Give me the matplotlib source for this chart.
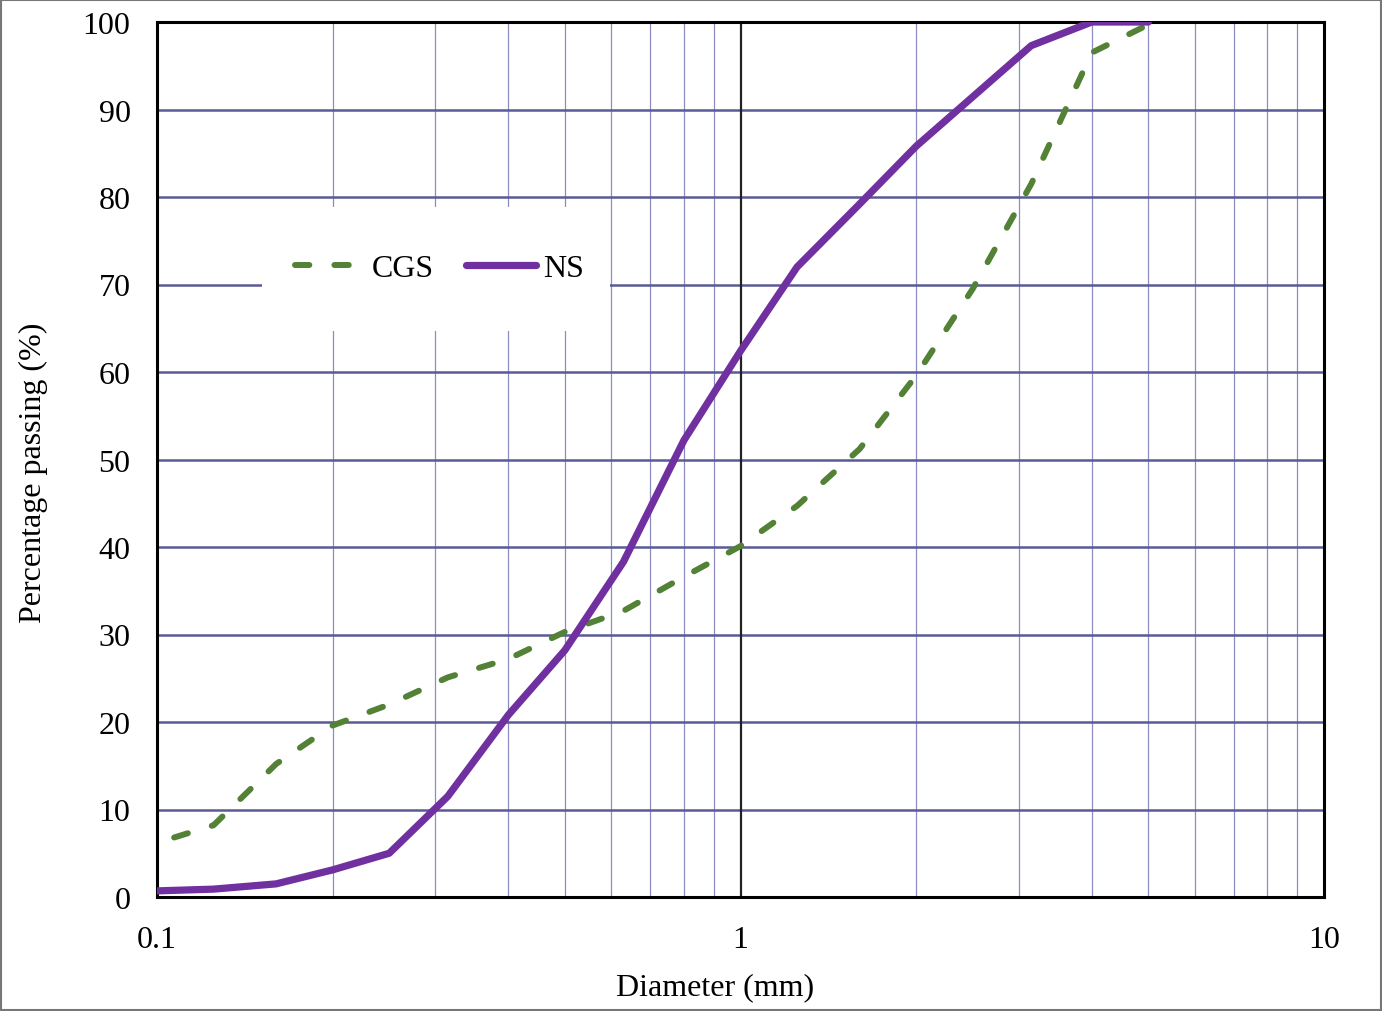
import matplotlib
matplotlib.use("Agg")
import matplotlib.pyplot as plt
from matplotlib.patches import Rectangle
from matplotlib.ticker import FixedLocator, NullFormatter

plt.rcParams['font.family'] = ['Liberation Serif', 'DejaVu Serif']

# sieve diameters (mm) and percentage passing
ns_diam = [0.1, 0.125, 0.16, 0.2, 0.25, 0.315, 0.4, 0.5, 0.63, 0.8, 1.0, 1.25, 1.6, 2.0, 3.15, 4.0, 5.0]
ns_pass = [0.7, 0.9, 1.5, 3.1, 5.0, 11.5, 20.8, 28.2, 38.3, 52.2, 62.4, 72.0, 79.2, 85.8, 97.3, 100, 100]

cgs_diam = [0.107, 0.125, 0.16, 0.2, 0.25, 0.315, 0.4, 0.5, 0.63, 0.8, 1.0, 1.25, 1.6, 2.0, 2.5, 3.15, 4.0, 5.0]
cgs_pass = [6.8, 8.2, 15.2, 19.6, 22.0, 25.1, 27.2, 30.3, 32.7, 36.6, 40.1, 44.7, 51.2, 59.6, 69.5, 81.5, 96.5, 99.7]

y_ticks = list(range(0, 101, 10))
x_ticks = [0.1, 1, 10]
x_minor = [0.2, 0.3, 0.4, 0.5, 0.6, 0.7, 0.8, 0.9, 2, 3, 4, 5, 6, 7, 8, 9]

FS = 23

fig = plt.figure(figsize=(13.82, 10.12), dpi=100)
ax = fig.add_axes([157/1382, 1 - 898/1012, (1324-157)/1382, (898-23)/1012])

grid_h = '#5a5a96'
grid_v = '#8c8cc0'

ax.set_xscale('log')
ax.set_xlim(0.1, 10)
ax.set_ylim(0, 100)
ax.set_axisbelow(True)

ax.xaxis.set_major_locator(FixedLocator(x_ticks))
ax.set_xticklabels(['0.1', '1', '10'])
ax.xaxis.set_minor_locator(FixedLocator(x_minor))
ax.xaxis.set_minor_formatter(NullFormatter())
ax.set_yticks(y_ticks)

ax.grid(True, axis='y', which='major', color=grid_h, linewidth=1.8)
ax.grid(True, axis='x', which='minor', color=grid_v, linewidth=0.9)
ax.axvline(1, color='#222222', linewidth=1.6, zorder=0.6)

ax.tick_params(axis='both', which='both', length=0, labelsize=FS)
ax.tick_params(axis='x', pad=20)
ax.tick_params(axis='y', pad=19)

for s in ax.spines.values():
    s.set_linewidth(2.2)
    s.set_color('black')

ax.plot(cgs_diam, cgs_pass, color='#538135', linewidth=4.3,
        dashes=(2.4, 4.2), dash_capstyle='round', label='CGS', zorder=3)
ax.plot(ns_diam, ns_pass, color='#7030a0', linewidth=5.2, label='NS',
        solid_capstyle='round', zorder=4)

# white box behind legend (hides the gridlines there)
ax.add_patch(Rectangle((0.09, 0.647), 0.298, 0.142, transform=ax.transAxes,
                       facecolor='white', edgecolor='none', zorder=1))
ax.legend(loc='center', bbox_to_anchor=(0.242, 0.718), ncol=2, frameon=False,
          fontsize=FS, handlelength=2.2, handletextpad=0.2, columnspacing=1.0)

ax.set_xlabel('Diameter (mm)', fontsize=FS)
ax.set_ylabel('Percentage passing (%)', fontsize=FS)
ax.xaxis.set_label_coords(0.478, -0.086)
ax.yaxis.set_label_coords(-0.0934, 0.486)

fig.patches.append(Rectangle((0.001, 0.001), 0.998, 0.998, transform=fig.transFigure,
                             facecolor='none', edgecolor='#777777', linewidth=1.5))

fig.savefig('out.png', dpi=100)
